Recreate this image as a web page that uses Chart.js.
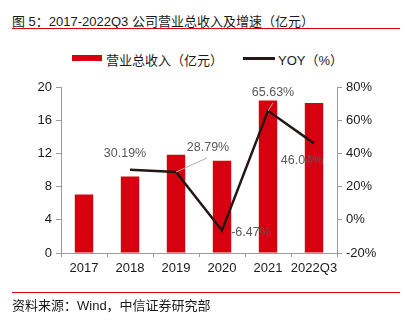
<!DOCTYPE html>
<html>
<head>
<meta charset="utf-8">
<script src="https://cdn.jsdelivr.net/npm/chart.js@4"></script>
<style>
  html, body { margin:0; padding:0; background:#fff; }
  body { width:406px; height:323px; position:relative; overflow:hidden; font-family:"Liberation Sans","Noto Sans CJK SC",sans-serif; }
  #title { position:absolute; left:12px; top:11px; font-size:13px; color:#1a1a1a; white-space:nowrap; font-family:"Liberation Sans","Noto Sans CJK SC",sans-serif; }
  #tline { position:absolute; left:12px; top:28px; width:388px; height:1px; background:#d7000f; }
  #fline { position:absolute; left:12px; top:292px; width:388px; height:1px; background:#d7000f; }
  #foot { position:absolute; left:12px; top:295px; font-size:13px; color:#1a1a1a; white-space:nowrap; }
  .leg { position:absolute; top:50px; font-size:13px; color:#1a1a1a; white-space:nowrap; }
  #lr { position:absolute; left:72px; top:55px; width:30px; height:6px; background:#d7000f; }
  #lb { position:absolute; left:243px; top:57px; width:32px; height:2.5px; background:#231815; }
  #wrap { position:absolute; left:0; top:0; width:406px; height:323px; }
</style>
</head>
<body>
<div id="title">图 5：2017-2022Q3 公司营业总收入及增速（亿元）</div>
<div id="tline"></div>
<div id="lr"></div><div class="leg" style="left:106px;">营业总收入（亿元）</div>
<div id="lb"></div><div class="leg" style="left:278px;">YOY（%）</div>
<div id="wrap"><canvas id="c" width="406" height="323"></canvas></div>
<div id="fline"></div>
<div id="foot">资料来源：Wind，中信证券研究部</div>
<script>
const categories = ["2017","2018","2019","2020","2021","2022Q3"];
const revenue = [7.05, 9.23, 11.85, 11.12, 18.38, 18.08];
const yoy = [null, 30.19, 28.79, -6.47, 65.63, 46.04];
const yoyLabels = ["", "30.19%", "28.79%", "-6.47%", "65.63%", "46.04%"];
const leftTicks = [0, 4, 8, 12, 16, 20];
const rightTicks = [-20, 0, 20, 40, 60, 80];

// label offsets (styling) relative to each point: [dx, dy, leader]
const labelOffsets = [null, [-5,-16,false], [32,-24,true], [29,2,false], [5,-18,true], [-12,17,false]];

const labelPlugin = {
  id: 'yoyLabels',
  afterDatasetsDraw(chart) {
    const ctx = chart.ctx;
    const meta = chart.getDatasetMeta(1);
    ctx.save();
    ctx.font = '12.5px "Liberation Sans", Arial, sans-serif';
    ctx.fillStyle = '#595959';
    ctx.textAlign = 'center';
    ctx.textBaseline = 'middle';
    meta.data.forEach((pt, i) => {
      const off = labelOffsets[i];
      if (!off || yoy[i] === null) return;
      const x = pt.x, y = pt.y;
      if (off[2]) {
        ctx.strokeStyle = '#b0b0b0';
        ctx.lineWidth = 1;
        ctx.beginPath();
        ctx.moveTo(x, y);
        if (i === 2) ctx.lineTo(x + off[0] - 1, y + off[1] + 10);
        else ctx.lineTo(x + off[0], y + off[1] + 10);
        ctx.stroke();
      }
      ctx.fillText(yoyLabels[i], x + off[0], y + off[1]);
    });
    ctx.restore();
  }
};

const axisColor = '#9a9a9a';
const tickFont = { family: '"Liberation Sans", Arial, sans-serif', size: 13 };

new Chart(document.getElementById('c'), {
  data: {
    labels: categories,
    datasets: [
      {
        type: 'bar',
        label: '营业总收入（亿元）',
        data: revenue,
        backgroundColor: '#d7000f',
        borderWidth: 0,
        barPercentage: 0.4,
        categoryPercentage: 1.0,
        yAxisID: 'y',
        order: 2
      },
      {
        type: 'line',
        label: 'YOY（%）',
        data: yoy,
        borderColor: '#231815',
        borderWidth: 2.5,
        pointRadius: 0,
        tension: 0,
        fill: false,
        spanGaps: false,
        yAxisID: 'y1',
        order: 1
      }
    ]
  },
  options: {
    responsive: false,
    animation: false,
    events: [],
    layout: { padding: { top: 87, left: 0, right: 0, bottom: 0 } },
    plugins: { legend: { display: false }, tooltip: { enabled: false }, title: { display: false } },
    scales: {
      x: {
        offset: true,
        grid: { offset: true, drawOnChartArea: false, drawTicks: true, tickLength: 4, color: axisColor },
        border: { display: true, color: axisColor },
        ticks: { color: '#1a1a1a', font: tickFont, padding: 4, maxRotation: 0, autoSkip: false },
        afterFit(s) { s.height = 70; }
      },
      y: {
        position: 'left',
        min: 0, max: 20,
        afterBuildTicks(s) { s.ticks = leftTicks.map(v => ({ value: v })); },
        grid: { drawOnChartArea: false, drawTicks: true, tickLength: 5, color: axisColor },
        border: { display: true, color: axisColor },
        ticks: { color: '#1a1a1a', font: tickFont, padding: 4 },
        afterFit(s) { s.width = 61; }
      },
      y1: {
        position: 'right',
        min: -20, max: 80,
        afterBuildTicks(s) { s.ticks = rightTicks.map(v => ({ value: v })); },
        grid: { drawOnChartArea: false, drawTicks: true, tickLength: 5, color: axisColor },
        border: { display: true, color: axisColor },
        ticks: { color: '#1a1a1a', font: tickFont, padding: 4, callback: v => v + '%' },
        afterFit(s) { s.width = 69; }
      }
    }
  },
  plugins: [labelPlugin]
});
</script>
</body>
</html>
